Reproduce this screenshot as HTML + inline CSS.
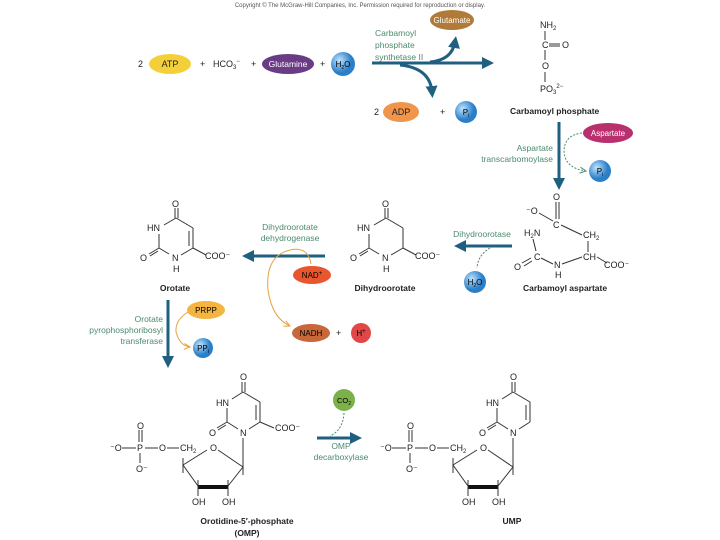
<!DOCTYPE html>
<html><head><meta charset="utf-8"><style>
body{margin:0;background:#fff}
svg{display:block;font-family:"Liberation Sans",sans-serif}
.t{font-size:9px;fill:#222}
.g{font-size:8.5px;fill:#4b8a6e}
.b{font-size:8.5px;font-weight:bold;fill:#222}
.l{stroke:#333;stroke-width:1;fill:none}
.ar{stroke:#1f5f80;stroke-width:3;fill:none}
</style></head><body>
<svg width="720" height="540" viewBox="0 0 720 540">
<defs>
<marker id="h" markerWidth="4" markerHeight="4" refX="2" refY="2" orient="auto" markerUnits="strokeWidth"><path d="M0,0 L4,2 L0,4 Z" fill="#1f5f80"/></marker>
<marker id="ho" markerWidth="8" markerHeight="8" refX="6" refY="4" orient="auto" markerUnits="userSpaceOnUse"><path d="M0,1 L6,4 L0,7" stroke="#e8a040" fill="none"/></marker>
<marker id="hg" markerWidth="8" markerHeight="8" refX="6" refY="4" orient="auto" markerUnits="userSpaceOnUse"><path d="M0,1 L6,4 L0,7" stroke="#4b8a6e" fill="none"/></marker>
<radialGradient id="bl" cx="35%" cy="35%"><stop offset="0" stop-color="#bfe4ff"/><stop offset="1" stop-color="#2b7fc8"/></radialGradient>
</defs>
<text x="360" y="7" font-size="6" fill="#555" text-anchor="middle">Copyright © The McGraw-Hill Companies, Inc. Permission required for reproduction or display.</text>

<!-- top row -->
<text x="138" y="67" class="t">2</text>
<ellipse cx="170" cy="64" rx="21" ry="10" fill="#f3d03a"/><text x="170" y="67" class="t" text-anchor="middle">ATP</text>
<text x="200" y="67" class="t">+</text>
<text x="213" y="67" class="t">HCO<tspan font-size="6" dy="2">3</tspan><tspan font-size="6" dy="-6">−</tspan></text>
<text x="251" y="67" class="t">+</text>
<ellipse cx="288" cy="64" rx="26" ry="10" fill="#6a3c86"/><text x="288" y="67" font-size="8.5" fill="#fff" text-anchor="middle">Glutamine</text>
<text x="320" y="67" class="t" fill="#999">+</text>
<circle cx="343" cy="64" r="12" fill="url(#bl)"/><text x="343" y="67" font-size="8" text-anchor="middle">H<tspan font-size="5" dy="2">2</tspan><tspan dy="-2">O</tspan></text>
<path d="M372,63 L488,63" class="ar" marker-end="url(#h)"/>
<path d="M430,62 Q452,60 455,42" class="ar" marker-end="url(#h)"/>
<path d="M400,65 Q430,68 432,92" class="ar" marker-end="url(#h)"/>
<ellipse cx="452" cy="20" rx="22" ry="10" fill="#b07a38"/><text x="452" y="23" font-size="8" fill="#fff" text-anchor="middle">Glutamate</text>
<text x="375" y="36" class="g">Carbamoyl</text><text x="375" y="48" class="g">phosphate</text><text x="375" y="60" class="g">synthetase II</text>
<text x="374" y="115" class="t">2</text>
<ellipse cx="401" cy="112" rx="18" ry="10" fill="#f0954a"/><text x="401" y="115" class="t" text-anchor="middle">ADP</text>
<text x="440" y="115" class="t">+</text>
<circle cx="466" cy="112" r="11" fill="url(#bl)"/><text x="466" y="115" font-size="8" text-anchor="middle">P<tspan font-size="5" dy="2">i</tspan></text>

<!-- carbamoyl phosphate -->
<text x="540" y="28" class="t">NH<tspan font-size="6" dy="2">2</tspan></text>
<line x1="545" y1="31" x2="545" y2="40" class="l"/>
<text x="542" y="48" class="t">C</text><line x1="549" y1="44" x2="560" y2="44" class="l"/><line x1="549" y1="46" x2="560" y2="46" class="l"/><text x="562" y="48" class="t">O</text>
<line x1="545" y1="50" x2="545" y2="60" class="l"/>
<text x="542" y="69" class="t">O</text>
<line x1="545" y1="72" x2="545" y2="82" class="l"/>
<text x="540" y="92" class="t">PO<tspan font-size="6" dy="2">3</tspan><tspan font-size="6" dy="-6">2−</tspan></text>
<text x="510" y="114" class="b">Carbamoyl phosphate</text>

<path d="M559,122 L559,184" class="ar" marker-end="url(#h)"/>
<ellipse cx="608" cy="133" rx="25" ry="10" fill="#b8306e"/><text x="608" y="136" font-size="8" fill="#fff" text-anchor="middle">Aspartate</text>
<circle cx="600" cy="171" r="11" fill="url(#bl)"/><text x="600" y="174" font-size="8" text-anchor="middle">P<tspan font-size="5" dy="2">i</tspan></text>
<path d="M582,133 Q565,135 564,150 Q564,168 586,171" stroke="#4b8a6e" stroke-dasharray="2,1.5" fill="none" marker-end="url(#hg)"/>
<text x="553" y="151" class="g" text-anchor="end">Aspartate</text><text x="553" y="162" class="g" text-anchor="end">transcarbomoylase</text>

<!-- carbamoyl aspartate -->
<text x="526" y="214" class="t">⁻O</text>
<line x1="539" y1="213" x2="553" y2="221" class="l"/>
<text x="553" y="228" class="t">C</text>
<line x1="556" y1="202" x2="556" y2="219" class="l"/><line x1="559" y1="202" x2="559" y2="219" class="l"/>
<text x="553" y="200" class="t">O</text>
<line x1="561" y1="225" x2="582" y2="235" class="l"/>
<text x="583" y="238" class="t">CH<tspan font-size="6" dy="2">2</tspan></text>
<line x1="588" y1="241" x2="588" y2="252" class="l"/>
<text x="583" y="260" class="t">CH</text>
<line x1="597" y1="257" x2="607" y2="263" class="l"/>
<text x="604" y="268" class="t">COO⁻</text>
<text x="524" y="236" class="t">H<tspan font-size="6" dy="2">2</tspan><tspan dy="-2">N</tspan></text>
<line x1="533" y1="239" x2="536" y2="251" class="l"/>
<text x="534" y="260" class="t">C</text>
<line x1="531" y1="258" x2="522" y2="263" class="l"/><line x1="532" y1="261" x2="524" y2="266" class="l"/>
<text x="514" y="270" class="t">O</text>
<line x1="541" y1="258" x2="553" y2="264" class="l"/>
<text x="554" y="268" class="t">N</text><text x="555" y="278" class="t">H</text>
<line x1="562" y1="264" x2="582" y2="257" class="l"/>
<text x="523" y="291" class="b">Carbamoyl aspartate</text>

<path d="M512,246 L460,246" class="ar" marker-end="url(#h)"/>
<text x="482" y="237" class="g" text-anchor="middle">Dihydroorotase</text>
<path d="M490,248 Q478,255 477,268" stroke="#4b8a6e" stroke-dasharray="2,1.5" fill="none"/>
<circle cx="475" cy="282" r="11" fill="url(#bl)"/><text x="475" y="285" font-size="8" text-anchor="middle">H<tspan font-size="5" dy="2">2</tspan><tspan dy="-2">O</tspan></text>

<!-- rings -->
<g id="ring">
<line x1="175" y1="208" x2="175" y2="218" class="l"/><line x1="178" y1="208" x2="178" y2="218" class="l"/>
<text x="172" y="207" class="t">O</text>
<line x1="176" y1="218" x2="193" y2="228" class="l"/>
<line x1="193" y1="228" x2="193" y2="248" class="l"/>
<line x1="193" y1="248" x2="181" y2="255" class="l"/>
<line x1="176" y1="218" x2="164" y2="225" class="l"/>
<text x="147" y="231" class="t">HN</text>
<line x1="159" y1="234" x2="159" y2="248" class="l"/>
<line x1="159" y1="248" x2="169" y2="254" class="l"/>
<line x1="159" y1="248" x2="149" y2="254" class="l"/><line x1="158" y1="251" x2="150" y2="256" class="l"/>
<text x="140" y="261" class="t">O</text>
<text x="172" y="261" class="t">N</text><text x="173" y="272" class="t">H</text>
<line x1="193" y1="248" x2="206" y2="255" class="l"/>
<text x="205" y="259" class="t">COO⁻</text>
</g>
<line x1="189" y1="231" x2="189" y2="246" class="l"/>
<text x="175" y="291" class="b" text-anchor="middle">Orotate</text>
<use href="#ring" transform="translate(210,0)"/>
<text x="385" y="291" class="b" text-anchor="middle">Dihydroorotate</text>

<path d="M325,256 L248,256" class="ar" marker-end="url(#h)"/>
<text x="290" y="230" class="g" text-anchor="middle">Dihydroorotate</text><text x="290" y="241" class="g" text-anchor="middle">dehydrogenase</text>
<ellipse cx="312" cy="275" rx="19" ry="9" fill="#e8562e"/><text x="312" y="278" font-size="8" text-anchor="middle">NAD<tspan font-size="6" dy="-3">+</tspan></text>
<path d="M311,264 Q308,246 290,250 Q265,256 268,290 Q272,318 290,326" stroke="#e8a040" fill="none" marker-end="url(#ho)"/>
<ellipse cx="311" cy="333" rx="19" ry="9" fill="#c8683a"/><text x="311" y="336" font-size="8" text-anchor="middle">NADH</text>
<text x="336" y="336" class="t">+</text>
<circle cx="361" cy="333" r="10" fill="#e04848"/><text x="361" y="336" font-size="8" text-anchor="middle">H<tspan font-size="6" dy="-3">+</tspan></text>

<path d="M168,300 L168,362" class="ar" marker-end="url(#h)"/>
<ellipse cx="206" cy="310" rx="19" ry="9" fill="#f3b442"/><text x="206" y="313" font-size="8" text-anchor="middle">PRPP</text>
<circle cx="203" cy="348" r="10" fill="url(#bl)"/><text x="203" y="351" font-size="8" text-anchor="middle">PP<tspan font-size="5" dy="2">i</tspan></text>
<path d="M188,312 Q175,320 176,332 Q180,346 190,347" stroke="#e8a040" fill="none" marker-end="url(#ho)"/>
<text x="163" y="322" class="g" text-anchor="end">Orotate</text><text x="163" y="333" class="g" text-anchor="end">pyrophosphoribosyl</text><text x="163" y="344" class="g" text-anchor="end">transferase</text>

<!-- OMP -->
<g id="nuc">
<text x="240" y="380" class="t">O</text>
<line x1="242" y1="382" x2="242" y2="392" class="l"/><line x1="245" y1="382" x2="245" y2="392" class="l"/>
<line x1="243" y1="392" x2="260" y2="402" class="l"/>
<line x1="260" y1="402" x2="260" y2="422" class="l"/><line x1="256" y1="405" x2="256" y2="420" class="l"/>
<line x1="260" y1="422" x2="249" y2="429" class="l"/>
<line x1="243" y1="392" x2="232" y2="399" class="l"/>
<text x="216" y="406" class="t">HN</text>
<line x1="227" y1="408" x2="227" y2="422" class="l"/>
<line x1="227" y1="422" x2="238" y2="429" class="l"/>
<line x1="227" y1="422" x2="217" y2="428" class="l"/><line x1="226" y1="425" x2="218" y2="430" class="l"/>
<text x="209" y="436" class="t">O</text>
<text x="240" y="436" class="t">N</text>
<line x1="243" y1="438" x2="243" y2="467" class="l"/>
<text x="210" y="451" class="t">O</text>
<line x1="218" y1="450" x2="243" y2="467" class="l"/>
<line x1="207" y1="450" x2="183" y2="465" class="l"/>
<line x1="183" y1="465" x2="198" y2="486" class="l" stroke-width="2"/>
<line x1="243" y1="467" x2="228" y2="486" class="l" stroke-width="2"/>
<line x1="198" y1="487" x2="228" y2="487" stroke="#111" stroke-width="4"/>
<line x1="183" y1="458" x2="183" y2="473" class="l"/><line x1="243" y1="467" x2="243" y2="475" class="l"/>
<line x1="198" y1="480" x2="198" y2="496" class="l"/><line x1="228" y1="480" x2="228" y2="496" class="l"/>
<text x="192" y="505" class="t">OH</text><text x="222" y="505" class="t">OH</text>
<text x="180" y="451" class="t">CH<tspan font-size="6" dy="2">2</tspan></text>
<text x="110" y="451" class="t">⁻O</text><line x1="122" y1="448" x2="136" y2="448" class="l"/>
<text x="137" y="451" class="t">P</text><line x1="145" y1="448" x2="158" y2="448" class="l"/>
<text x="159" y="451" class="t">O</text><line x1="167" y1="448" x2="179" y2="448" class="l"/>
<line x1="139" y1="430" x2="139" y2="442" class="l"/><line x1="142" y1="430" x2="142" y2="442" class="l"/>
<text x="137" y="429" class="t">O</text>
<line x1="140" y1="453" x2="140" y2="463" class="l"/>
<text x="136" y="472" class="t">O⁻</text>
</g>
<line x1="260" y1="422" x2="274" y2="428" class="l"/>
<text x="275" y="431" class="t">COO⁻</text>
<text x="247" y="524" class="b" text-anchor="middle">Orotidine-5′-phosphate</text>
<text x="247" y="536" class="b" text-anchor="middle">(OMP)</text>
<use href="#nuc" transform="translate(270,0)"/>
<text x="512" y="524" class="b" text-anchor="middle">UMP</text>

<path d="M317,438 L356,438" class="ar" marker-end="url(#h)"/>
<circle cx="344" cy="400" r="11" fill="#7cb048"/><text x="344" y="403" font-size="7.5" text-anchor="middle">CO<tspan font-size="5" dy="2">2</tspan></text>
<path d="M344,413 Q343,430 330,436" stroke="#4b8a6e" stroke-dasharray="2,1.5" fill="none"/>
<text x="341" y="449" class="g" text-anchor="middle">OMP</text><text x="341" y="460" class="g" text-anchor="middle">decarboxylase</text>
</svg>
</body></html>
